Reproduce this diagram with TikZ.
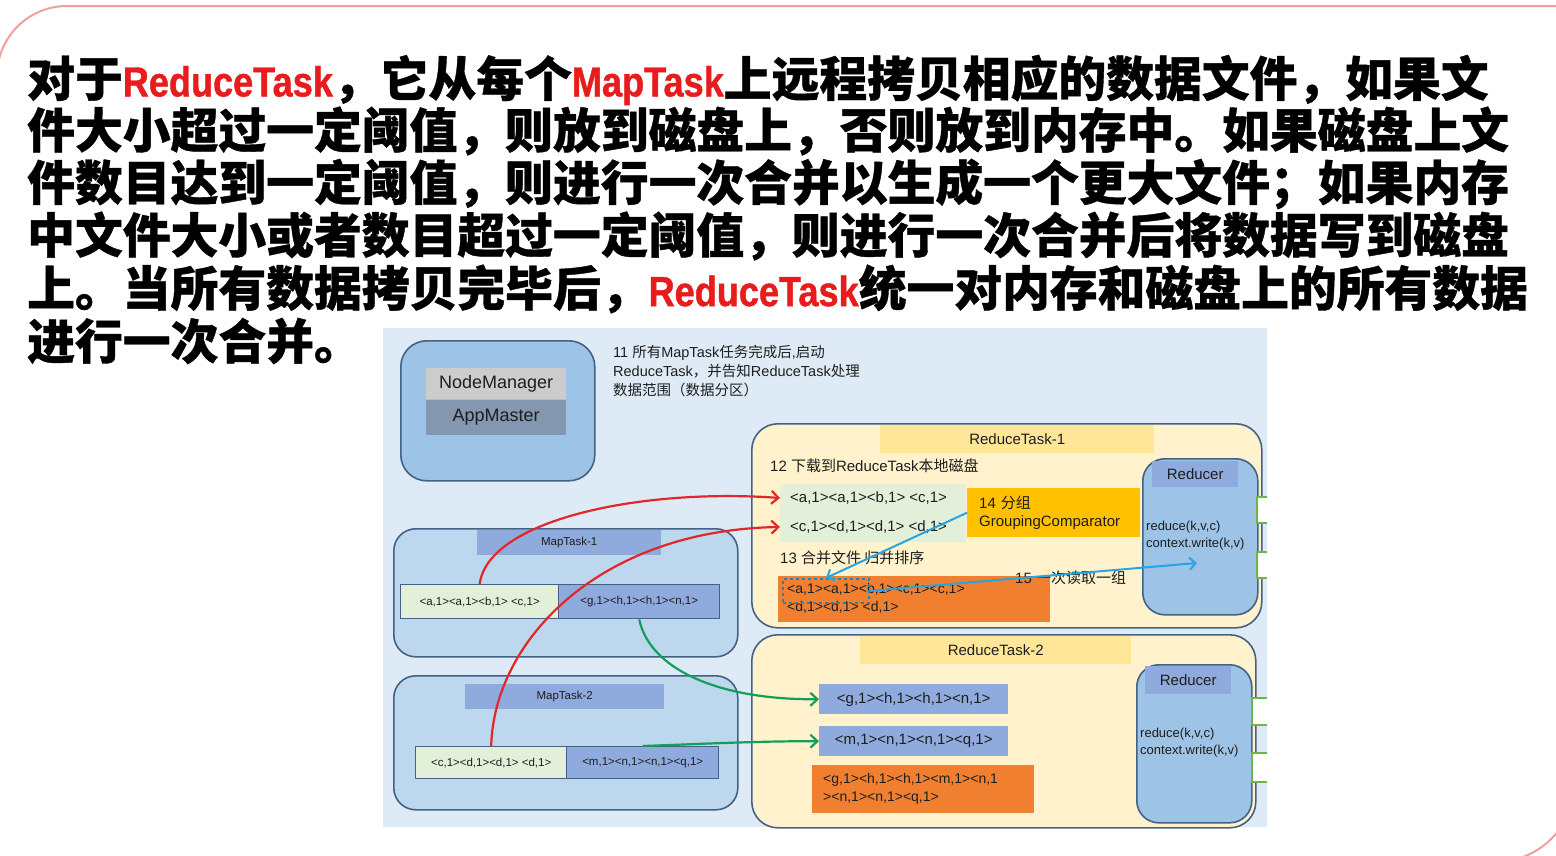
\documentclass[tikz,border=0pt]{standalone}
\usepackage{fontspec}
\setmainfont{Liberation Sans}
\newfontfamily\cjk{Noto Sans CJK SC}
\newfontfamily\cjkheavy{Noto Sans CJK SC}[FakeBold=0.8]
\newfontfamily\redfont{Liberation Sans}[FakeStretch=0.86, FakeBold=1]
\usetikzlibrary{positioning, arrows.meta}
\definecolor{ink}{RGB}{30,30,30}
\definecolor{tred}{RGB}{232,28,28}
\definecolor{bgblue}{RGB}{222,235,247}
\definecolor{nmblue}{RGB}{157,195,230}
\definecolor{mapfill}{RGB}{189,215,238}
\definecolor{edge}{RGB}{68,98,132}
\definecolor{tagblue}{RGB}{143,170,220}
\definecolor{ltgreen}{RGB}{226,240,217}
\definecolor{nmgray}{RGB}{204,204,204}
\definecolor{amgray}{RGB}{132,151,176}
\definecolor{redfill}{RGB}{255,242,204}
\definecolor{redtag}{RGB}{255,230,153}
\definecolor{gold}{RGB}{255,192,0}
\definecolor{orange}{RGB}{240,128,48}
\definecolor{darrow}{RGB}{225,40,40}
\definecolor{garrow}{RGB}{20,158,90}
\definecolor{barrow}{RGB}{40,165,225}
\definecolor{framepink}{RGB}{240,160,160}
\definecolor{edgegreen}{RGB}{110,180,70}
\newcommand{\zh}[1]{{\cjk #1}}
\newcommand{\hl}[1]{{\color{tred}\redfont\bfseries\fontsize{42}{52}\selectfont #1}}

\begin{document}
\begin{tikzpicture}[x=1pt, y=-1pt,
		every node/.style={text=ink},
		panel/.style={anchor=north west, inner sep=0, fill=bgblue},
		container/.style={anchor=north west, draw=edge, line width=1.6pt, rounded corners=22pt, inner sep=0},
		tag/.style={anchor=north west, inner sep=0, font=\fontsize{15}{18}\selectfont},
		cell/.style={anchor=north west, inner sep=0, draw=edge, line width=1.4pt, font=\fontsize{11.5}{14}\selectfont},
		strip/.style={anchor=north west, inner sep=0, font=\fontsize{15}{18}\selectfont},
		note/.style={anchor=west, inner sep=0, align=left, font=\fontsize{15}{19}\selectfont},
		textline/.style={anchor=west, inner sep=0, text=black, font=\cjkheavy\bfseries\fontsize{47.8}{52}\selectfont},
		redarrow/.style={draw=darrow, line width=2.2pt, -{Straight Barb[length=7pt,width=13pt]}},
		greenarrow/.style={draw=garrow, line width=2.2pt, -{Straight Barb[length=7pt,width=13pt]}},
		bluearrow/.style={draw=barrow, line width=2pt, -{Straight Barb[length=6pt,width=12pt]}}
		]
		\useasboundingbox (0,0) rectangle (1556,855);
		\fill[white] (0,0) rectangle (1556,855);
		\draw[framepink, line width=2pt, rounded corners=70pt] (-3,900) -- (-3,6) -- (1620,6);
		\draw[framepink, line width=2pt, rounded corners=80pt] (1575,650) -- (1575,862) -- (1350,862);
		
		% ==========================================
		% TEXT ABOVE THE DIAGRAM
		% ==========================================
		\node[textline] (t1) at (27,80) {对于\hl{ReduceTask}，它从每个\hl{MapTask}上远程拷贝相应的数据文件，如果文};
		\node[textline] (t2) at (27,131) {件大小超过一定阈值，则放到磁盘上，否则放到内存中。如果磁盘上文};
		\node[textline] (t3) at (27,184) {件数目达到一定阈值，则进行一次合并以生成一个更大文件；如果内存};
		\node[textline] (t4) at (27,236) {中文件大小或者数目超过一定阈值，则进行一次合并后将数据写到磁盘};
		\node[textline] (t5) at (27,289) {上。当所有数据拷贝完毕后，\hl{ReduceTask}统一对内存和磁盘上的所有数据};
		\node[textline] (t6) at (27,341) {进行一次合并。};
		
		% ==========================================
		% DIAGRAM BACKGROUND
		% ==========================================
		\node[panel, minimum width=884, minimum height=499] (panel) at (383,328) {};
		
		% NodeManager / AppMaster
		\node[container, fill=nmblue, rounded corners=26pt, minimum width=194, minimum height=140] (nm) at (400,340) {};
		\node[strip, fill=nmgray, minimum width=140, minimum height=31, font=\fontsize{18}{20}\selectfont] (nmtag) at (426,368) {NodeManager};
		\node[strip, fill=amgray, minimum width=140, minimum height=35, font=\fontsize{18}{20}\selectfont, below=0pt of nmtag] (am) {AppMaster};
		\node[anchor=north west, inner sep=0, align=left, font=\fontsize{14.5}{19}\selectfont] (s11) at (613,345)
			{11 \zh{所有}MapTask\zh{任务完成后}{,}\zh{启动}\\ReduceTask\zh{，并告知}ReduceTask\zh{处理}\\\zh{数据范围（数据分区）}};
		
		% ==========================================
		% MAP TASKS
		% ==========================================
		\node[container, fill=mapfill, minimum width=344, minimum height=128] (map1) at (393,528) {};
		\node[tag, fill=tagblue, minimum width=184, minimum height=25, font=\fontsize{11.5}{14}\selectfont] (map1tag) at (477,530) {MapTask-1};
		\node[cell, fill=ltgreen, minimum width=158, minimum height=34] (m1l) at (400,584) {<a,1><a,1><b,1> <c,1>};
		\node[cell, fill=tagblue, minimum width=161, minimum height=34] (m1r) at (558,584) {<g,1><h,1><h,1><n,1>};
		
		\node[container, fill=mapfill, minimum width=344, minimum height=134] (map2) at (393,675) {};
		\node[tag, fill=tagblue, minimum width=199, minimum height=25, font=\fontsize{11.5}{14}\selectfont] (map2tag) at (465,684) {MapTask-2};
		\node[cell, fill=ltgreen, minimum width=151, minimum height=32] (m2l) at (415,746) {<c,1><d,1><d,1> <d,1>};
		\node[cell, fill=tagblue, minimum width=152, minimum height=32] (m2r) at (566,746) {<m,1><n,1><n,1><q,1>};
		
		% ==========================================
		% REDUCE TASK 1
		% ==========================================
		\node[container, fill=redfill, rounded corners=26pt, minimum width=510, minimum height=204] (rt1) at (751,423) {};
		\node[tag, fill=redtag, minimum width=274, minimum height=28] (rt1tag) at (880,425) {ReduceTask-1};
		\node[note] (s12) at (770,466) {12 \zh{下载到}ReduceTask\zh{本地磁盘}};
		\node[strip, fill=ltgreen, minimum width=186, minimum height=58] (rin) at (780,484) {};
		\node[note] (rin1) at (790,498) {<a,1><a,1><b,1> <c,1>};
		\node[note] (rin2) at (790,527) {<c,1><d,1><d,1> <d,1>};
		\node[strip, fill=gold, minimum width=173, minimum height=49, align=left, text width=149, inner xsep=12] (grp) at (967,488)
			{14 \zh{分组}\\GroupingComparator};
		\node[note] (s13) at (780,558) {13 \zh{合并文件 归并排序}};
		\node[strip, fill=orange, minimum width=272, minimum height=46] (mrg) at (778,576) {};
		\node[note, font=\fontsize{14}{18}\selectfont] (mrgtxt) at (787,598) {<a,1><a,1><b,1><c,1><c,1>\\<d,1><d,1> <d,1>};
		\node[strip, draw=barrow!80!black, dashed, line width=1.8pt, minimum width=86, minimum height=24] (grp1) at (782,578) {};
		\node[note] (s15) at (1015,578) {15 \zh{一次读取一组}};
		
		\node[container, fill=nmblue, minimum width=115, minimum height=156] (rdc1) at (1142,458) {};
		\node[strip, fill=tagblue, minimum width=86, minimum height=26] (rdc1tag) at (1152,461) {Reducer};
		\node[anchor=north west, inner sep=0, align=left, font=\fontsize{13}{17}\selectfont] (rdc1code) at (1146,521) {reduce(k,v,c)\\context.write(k,v)};
		\coordinate (rdc1in) at (1197,563);
		
		% ==========================================
		% REDUCE TASK 2
		% ==========================================
		\node[container, fill=redfill, rounded corners=26pt, minimum width=504, minimum height=193] (rt2) at (751,634) {};
		\node[tag, fill=redtag, minimum width=271, minimum height=28] (rt2tag) at (860,636) {ReduceTask-2};
		\node[strip, fill=tagblue, minimum width=189, minimum height=30] (r2a) at (819,684) {<g,1><h,1><h,1><n,1>};
		\node[strip, fill=tagblue, minimum width=189, minimum height=30] (r2b) at (819,726) {<m,1><n,1><n,1><q,1>};
		\node[strip, fill=orange, minimum width=222, minimum height=48] (r2c) at (812,765) {};
		\node[note, font=\fontsize{14}{18}\selectfont] (r2ctxt) at (823,789) {<g,1><h,1><h,1><m,1><n,1\\><n,1><n,1><q,1>};
		
		\node[container, fill=nmblue, minimum width=115, minimum height=158] (rdc2) at (1136,664) {};
		\node[strip, fill=tagblue, minimum width=86, minimum height=28] (rdc2tag) at (1145,666) {Reducer};
		\node[anchor=north west, inner sep=0, align=left, font=\fontsize{13}{17}\selectfont] (rdc2code) at (1140,728) {reduce(k,v,c)\\context.write(k,v)};
		
		% output stubs cut off at the right edge
		\foreach \ya/\yb/\xa in {497/523/1257, 552/578/1257, 698/725/1252, 753/782/1252}
			\draw[edgegreen, line width=1.5pt, fill=white] (1267,\ya) -| (\xa,\yb) -- (1267,\yb);
		
		% ==========================================
		% CONNECTORS
		% ==========================================
		\draw[redarrow] (m1l.north) .. controls (488,520) and (640,488) .. (rin.west |- rin1);
		\draw[redarrow] (m2l.north) .. controls (494,640) and (600,530) .. (rin.west |- rin2);
		\draw[greenarrow] (m1r.south) .. controls (650,670) and (720,700) .. (r2a.west);
		\draw[greenarrow] (m2r.north) .. controls (700,744) and (760,741) .. (r2b.west);
		\draw[bluearrow] (grp.west) -- (grp1.north);
		\draw[bluearrow] (grp1.east) -- (rdc1in);
		
	\end{tikzpicture}
\end{document}
